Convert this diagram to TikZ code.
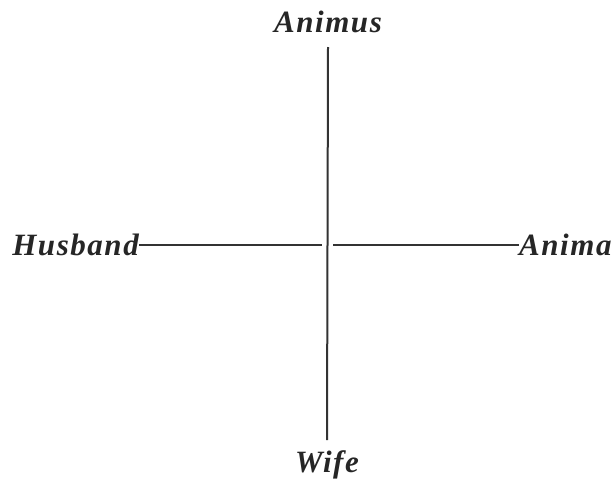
\documentclass[tikz,border=0pt]{standalone}
\usepackage{fontspec}
\setmainfont{Liberation Serif}
\newfontfamily\lblfont[LetterSpace=5]{Liberation Serif}
\begin{document}
\begin{tikzpicture}[x=1pt,y=-1pt,
  lbl/.style={font=\lblfont\fontsize{31}{34}\selectfont\bfseries\itshape, inner sep=0pt, text=black!85},
  axis/.style={line width=2pt, black!80}]
\useasboundingbox (0,0) rectangle (615,482);
\node[lbl] (animus) at (328,22) {Animus};
\node[lbl] (wife) at (327,465) {Wife};
\node[lbl, anchor=east] (husband) at (139,245) {Husband};
\node[lbl, anchor=west] (anima) at (519,245) {Anima};
\coordinate (c) at (326,245);
\coordinate (cl) at (322,245);
\coordinate (cr) at (333,245);
\draw[axis] (animus.south |- 0,47) -- (wife.north |- 0,440);
\draw[axis] (husband.east) -- (cl);
\draw[axis] (cr) -- (anima.west);
\end{tikzpicture}
\end{document}
